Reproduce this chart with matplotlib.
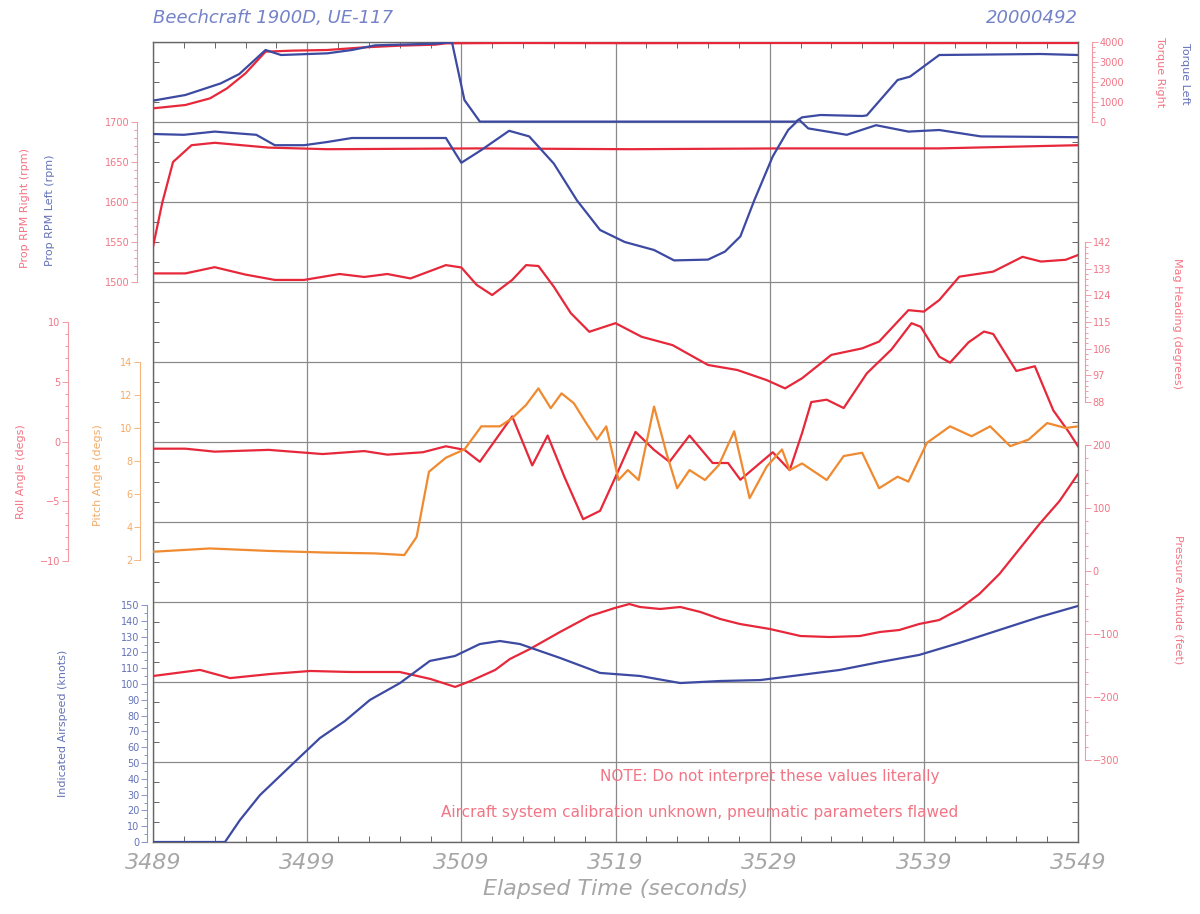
import numpy as np
import matplotlib.pyplot as plt

# Flight data, elapsed time in seconds
t_tq_r = [3489, 3491.1, 3492.7, 3493.8, 3495.0, 3496.3, 3498.0, 3500.3, 3502.7, 3505.0,
          3507.3, 3508.0, 3512, 3520, 3530, 3540, 3549]
torque_r = [683, 850, 1183, 1683, 2433, 3517, 3567, 3600, 3733, 3817,
            3867, 3933, 3950, 3940, 3950, 3945, 3950]

t_tq_l = [3489, 3491.1, 3493.4, 3494.6, 3496.3, 3497.3, 3500.3, 3501.9, 3503.4, 3507.3,
          3508.0, 3508.4, 3509.2, 3510.2, 3530.7, 3531.1, 3532.3, 3535.0, 3535.3, 3537.3,
          3538.1, 3540.0, 3546.6, 3549]
torque_l = [1067, 1350, 1933, 2400, 3600, 3350, 3433, 3600, 3833, 3917,
            3967, 3967, 1100, 20, 20, 233, 350, 300, 330, 2100,
            2267, 3350, 3400, 3350]

t_rpm_l = [3489, 3491, 3493, 3495.7, 3496.9, 3498.8, 3500.3, 3501.9, 3508.0, 3509.0,
           3510.3, 3512.1, 3513.4, 3515.0, 3516.5, 3518.0, 3519.6, 3521.5, 3522.8, 3525.0,
           3526.1, 3527.1, 3528.0, 3529.2, 3530.2, 3530.9, 3531.5, 3534.0, 3535.9, 3538.0,
           3540.0, 3542.7, 3549]
rpm_l = [1685, 1684, 1688, 1684, 1671, 1671, 1675, 1680, 1680, 1649,
         1665, 1689, 1682, 1648, 1602, 1565, 1550, 1540, 1527, 1528,
         1538, 1557, 1602, 1657, 1690, 1703, 1692, 1684, 1696, 1688,
         1690, 1682, 1681]

t_rpm_r = [3489, 3489.6, 3490.3, 3491.5, 3493.0, 3496.5, 3500.3, 3510, 3520, 3530, 3540, 3549]
rpm_r = [1544, 1599, 1650, 1671, 1674, 1668, 1666, 1667, 1666, 1667, 1667, 1671]

t_hdg = [3489, 3491.1, 3493.0, 3495.0, 3496.9, 3498.8, 3501.1, 3502.7, 3504.2, 3505.7,
         3508.0, 3509.0, 3510.0, 3511.0, 3512.3, 3513.2, 3514.0, 3515.0, 3516.1, 3517.3,
         3519.0, 3520.7, 3522.7, 3525.0, 3526.9, 3528.8, 3530.0, 3531.1, 3533.0, 3535.0,
         3536.1, 3538.0, 3539.0, 3540.0, 3541.3, 3543.5, 3545.4, 3546.6, 3548.2, 3549]
heading = [131.4, 131.4, 133.5, 131.0, 129.2, 129.2, 131.2, 130.2, 131.2, 129.7,
           134.2, 133.4, 127.5, 124.1, 129.2, 134.2, 133.9, 126.9, 118.0, 111.7,
           114.6, 110.0, 107.2, 100.5, 98.8, 95.4, 92.6, 96.0, 103.9, 106.1,
           108.4, 119.0, 118.5, 122.4, 130.3, 132.0, 137.0, 135.4, 136.0, 137.6]

t_roll = [3489, 3491.1, 3493.0, 3496.5, 3500.0, 3502.7, 3504.2, 3506.5, 3508.0, 3509.2,
          3510.2, 3512.3, 3513.6, 3514.6, 3515.7, 3516.9, 3518.0, 3519.2, 3520.3, 3521.5,
          3522.5, 3523.8, 3525.3, 3526.3, 3527.1, 3529.2, 3530.3, 3531.1, 3531.7, 3532.7,
          3533.8, 3535.3, 3536.9, 3538.2, 3538.8, 3540.0, 3540.7, 3541.9, 3542.9, 3543.5,
          3545.0, 3546.2, 3547.4, 3548.4, 3549]
roll = [-0.6, -0.6, -0.85, -0.7, -1.05, -0.8, -1.1, -0.9, -0.4, -0.7,
        -1.7, 2.1, -2.0, 0.5, -3.0, -6.5, -5.8, -2.4, 0.8, -0.7,
        -1.7, 0.5, -1.8, -1.8, -3.2, -0.9, -2.4, 0.7, 3.3, 3.5,
        2.8, 5.7, 7.7, 9.9, 9.6, 7.1, 6.6, 8.3, 9.2, 9.0,
        5.9, 6.3, 2.6, 0.8, -0.4]

t_pitch = [3489, 3492.7, 3496.5, 3500.3, 3503.4, 3505.3, 3506.1, 3506.9, 3508.0, 3509.2,
           3510.3, 3511.5, 3512.3, 3513.2, 3514.0, 3514.8, 3515.5, 3516.3, 3517.1, 3517.8,
           3518.4, 3519.2, 3519.8, 3520.5, 3521.5, 3522.3, 3523.0, 3523.8, 3524.8, 3525.7,
           3526.7, 3527.7, 3528.8, 3529.8, 3530.3, 3531.1, 3532.7, 3533.8, 3535.0, 3536.1,
           3537.3, 3538.0, 3539.2, 3540.7, 3542.1, 3543.3, 3544.6, 3545.8, 3547.0, 3548.2,
           3549]
pitch = [2.5, 2.7, 2.55, 2.45, 2.4, 2.3, 3.4, 7.35, 8.2, 8.7,
         10.1, 10.1, 10.6, 11.4, 12.4, 11.2, 12.1, 11.5, 10.3, 9.3,
         10.1, 6.85, 7.45, 6.85, 11.3, 8.5, 6.35, 7.45, 6.85, 7.75,
         9.8, 5.75, 7.65, 8.7, 7.45, 7.85, 6.85, 8.3, 8.5, 6.35,
         7.05, 6.75, 9.1, 10.1, 9.5, 10.1, 8.9, 9.3, 10.3, 10.0,
         10.1]

t_alt = [3489, 3492.05, 3494.0, 3496.6, 3499.2, 3501.8, 3505.0, 3507.0, 3508.6, 3509.6,
         3511.2, 3512.15, 3513.45, 3515.4, 3517.34, 3518.96, 3519.9, 3520.58, 3521.9, 3523.2,
         3524.5, 3525.8, 3527.07, 3529.0, 3531.0, 3532.9, 3534.85, 3536.15, 3537.4, 3538.7,
         3540.0, 3541.3, 3542.6, 3543.9, 3545.2, 3546.5, 3547.8, 3549]
altitude = [-166.7, -157, -170, -163.5, -158.7, -160.3, -160.3, -171.4, -184, -174.6,
            -157, -139.7, -123.8, -96.8, -71.4, -58.7, -52.4, -57.1, -60.3, -57.1,
            -65, -76.2, -84.1, -92, -103.2, -104.8, -103.2, -96.8, -93.7, -84.1,
            -77.8, -60.3, -36.5, -4.8, 34.9, 74.6, 111, 154]

t_ias = [3489, 3493.67, 3494.64, 3495.94, 3497.24, 3498.53, 3499.83, 3501.45, 3503.07, 3505.02,
         3506.96, 3508.58, 3510.2, 3511.5, 3512.8, 3515.4, 3518.0, 3520.58, 3523.2, 3525.8,
         3528.4, 3531.0, 3533.55, 3536.15, 3538.7, 3541.3, 3543.9, 3546.5, 3549]
airspeed = [0, 0, 13.9, 29.7, 41.8, 53.8, 65.8, 76.6, 89.9, 100.6,
            114.6, 117.7, 125.3, 127.2, 125.3, 116.5, 107, 105.1, 100.6, 101.9,
            102.5, 105.7, 108.9, 113.9, 118.4, 126, 134.2, 142.4, 149.4]

time_ticks = [3489, 3499, 3509, 3519, 3529, 3539, 3549]

BLUE = '#3c4aa2'
RED = '#e6283a'
ORANGE = '#f08a30'
RED_TXT = '#f27585'
RED_AX = '#f29aa4'
BLUE_TXT = '#6472b8'
ORANGE_TXT = '#f4aa66'
GRAY_TXT = '#a6a6a6'

W, H = 1200, 914
LEFT, RIGHT, TOP, BOTTOM = 153, 1078, 42, 842

fig = plt.figure(figsize=(W / 100, H / 100), dpi=100)
ax = fig.add_axes([LEFT / W, 1 - BOTTOM / H, (RIGHT - LEFT) / W, (BOTTOM - TOP) / H])
ax.set_xlim(time_ticks[0], time_ticks[-1])
ax.set_ylim(0, 10)


def scale_axis(side, x_px, lo, hi, y_lo, y_hi, major, minor_step, axis_color, label_color):
    """Extra y scale whose [lo, hi] range sits between pixel rows y_lo and y_hi."""
    a = ax.twinx()
    per_px = (hi - lo) / (y_lo - y_hi)
    a.set_ylim(lo - (BOTTOM - y_lo) * per_px, hi + (y_hi - TOP) * per_px)
    for s in ('top', 'bottom', 'left', 'right'):
        a.spines[s].set_visible(s == side)
    sp = a.spines[side]
    sp.set_position(('axes', (x_px - LEFT) / (RIGHT - LEFT)))
    sp.set_bounds(lo, hi)
    sp.set_color(axis_color)
    sp.set_linewidth(0.8)
    a.yaxis.set_ticks_position(side)
    a.set_yticks(major)
    if minor_step:
        a.set_yticks(np.arange(lo, hi + minor_step / 2, minor_step), minor=True)
    a.tick_params(axis='y', which='both', colors=axis_color, labelcolor=label_color,
                  labelsize=7, width=0.7, pad=1.5)
    a.tick_params(axis='y', which='major', length=4)
    a.tick_params(axis='y', which='minor', length=2)
    return a


# engine torque (top row)
a_tq = scale_axis('right', 1092, 0, 4000, 122, 42, [0, 1000, 2000, 3000, 4000], 250, RED_AX, RED_TXT)
a_tq.plot(t_tq_r, torque_r, color=RED, lw=1.6)
a_tq.plot(t_tq_l, torque_l, color=BLUE, lw=1.6)

# propeller speed
a_rpm = scale_axis('left', 137, 1500, 1700, 282, 122, [1500, 1550, 1600, 1650, 1700], 10, RED_AX, RED_TXT)
a_rpm.plot(t_rpm_r, rpm_r, color=RED, lw=1.6)
a_rpm.plot(t_rpm_l, rpm_l, color=BLUE, lw=1.6)

# magnetic heading
a_hdg = scale_axis('right', 1085, 88, 142, 402, 242, [88, 97, 106, 115, 124, 133, 142], 1.8, RED_AX, RED_TXT)
a_hdg.plot(t_hdg, heading, color=RED, lw=1.6)

# roll and pitch
a_roll = scale_axis('left', 68, -10, 10, 561, 322, [-10, -5, 0, 5, 10], 1, RED_AX, RED_TXT)
a_roll.plot(t_roll, roll, color=RED, lw=1.6)

a_pitch = scale_axis('left', 140, 2, 14, 560, 362, [2, 4, 6, 8, 10, 12, 14], None, '#f6b680', ORANGE_TXT)
a_pitch.plot(t_pitch, pitch, color=ORANGE, lw=1.6)

# pressure altitude
a_alt = scale_axis('right', 1085, -300, 200, 760, 445, [-300, -200, -100, 0, 100, 200], 20, RED_AX, RED_TXT)
a_alt.plot(t_alt, altitude, color=RED, lw=1.6)

# indicated airspeed
a_ias = scale_axis('left', 147, 0, 150, 842, 605, list(range(0, 151, 10)), 5, '#8a94c8', BLUE_TXT)
a_ias.plot(t_ias, airspeed, color=BLUE, lw=1.6)

# frame and grid
ax.set_xticks(time_ticks)
ax.set_xticklabels([str(v) for v in time_ticks], fontsize=16, style='italic', color=GRAY_TXT)
ax.set_xticks(np.arange(time_ticks[0], time_ticks[-1] + 1, 2), minor=True)
ax.set_yticks(range(11))
ax.set_yticks(np.arange(0, 10.01, 0.25), minor=True)
ax.yaxis.set_ticks_position('both')
ax.xaxis.set_ticks_position('both')
ax.tick_params(axis='both', which='major', length=0, pad=8)
ax.tick_params(axis='both', which='minor', direction='in', length=4, width=0.7, color='#666666')
ax.tick_params(axis='y', labelleft=False, labelright=False)
ax.grid(True, which='major', color='#8a8a8a', lw=0.9)
for s in ax.spines.values():
    s.set_color('#666666')
    s.set_linewidth(1.0)

ax.set_xlabel('Elapsed Time (seconds)', fontsize=16, style='italic', color=GRAY_TXT, labelpad=4)


def px_text(x, y, s, **kw):
    fig.text(x / W, 1 - y / H, s, ha='center', va='center', **kw)


px_text(LEFT, 18, 'Beechcraft 1900D, UE-117', fontsize=13, style='italic', color='#7482c8')
fig.texts[-1].set_ha('left')
px_text(RIGHT, 18, '20000492', fontsize=13, style='italic', color='#7482c8')
fig.texts[-1].set_ha('right')

px_text(1160, 72, 'Torque Right', fontsize=8, color=RED_TXT, rotation=270)
px_text(1185, 74, 'Torque Left', fontsize=8, color=BLUE_TXT, rotation=270)
px_text(25, 208, 'Prop RPM Right (rpm)', fontsize=8, color=RED_TXT, rotation=90)
px_text(50, 210, 'Prop RPM Left (rpm)', fontsize=8, color=BLUE_TXT, rotation=90)
px_text(1177, 323, 'Mag Heading (degrees)', fontsize=8, color=RED_TXT, rotation=270)
px_text(21, 472, 'Roll Angle (degs)', fontsize=8, color=RED_TXT, rotation=90)
px_text(98, 475, 'Pitch Angle (degs)', fontsize=8, color=ORANGE_TXT, rotation=90)
px_text(1178, 600, 'Pressure Altitude (feet)', fontsize=8, color=RED_TXT, rotation=270)
px_text(63, 723, 'Indicated Airspeed (knots)', fontsize=8, color=BLUE_TXT, rotation=90)

px_text(770, 777, 'NOTE: Do not interpret these values literally', fontsize=11, color=RED_TXT)
px_text(700, 813, 'Aircraft system calibration unknown, pneumatic parameters flawed',
        fontsize=11, color=RED_TXT)

fig.savefig('out.png', dpi=100)
